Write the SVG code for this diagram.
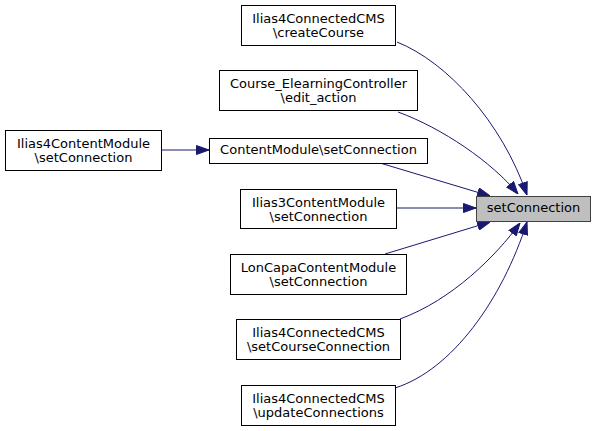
<svg xmlns="http://www.w3.org/2000/svg" width="596" height="431" viewBox="0 0 596 431">
<style>
.n rect{fill:#fff;stroke:#000;stroke-width:1}
.n.h rect{fill:#bfbfbf;stroke:#404040}
.n text{font-family:"DejaVu Sans",sans-serif;font-size:13px;fill:#000;text-anchor:middle}
.e path{fill:none;stroke:#191970;stroke-width:1;marker-end:url(#ah)}
</style>
<defs>
<marker id="ah" viewBox="0 0 13 10" refX="13" refY="5" markerWidth="13" markerHeight="10" markerUnits="userSpaceOnUse" orient="auto">
<path d="M0.5,0.5 L13,5 L0.5,9.5 z" fill="#191970" stroke="#191970" stroke-width="1"/>
</marker>
</defs>
<rect width="596" height="431" fill="#fff"/>
<g class="e">
<path d="M161,150 L209,150"/>
<path d="M397,42 C447,62 502,122 527,195"/>
<path d="M398,112 C442,128 492,162 518,194"/>
<path d="M380,163 L490,196"/>
<path d="M397,208 L476,208"/>
<path d="M385,254 L490,222"/>
<path d="M400,319 C452,300 496,256 520,223"/>
<path d="M395,388 C452,370 502,300 527,222"/>
</g>
<g id="n0" class="n h"><rect x="476.500" y="196.500" width="114" height="25"/><text x="533.500" y="212">setConnection</text></g>
<g id="n1" class="n"><rect x="241.500" y="5.500" width="154" height="40"/><text x="318.500" y="23">Ilias4ConnectedCMS</text><text x="318.500" y="37">\createCourse</text></g>
<g id="n2" class="n"><rect x="219.500" y="70.500" width="198" height="40"/><text x="318.500" y="88">Course_ElearningController</text><text x="318.500" y="102">\edit_action</text></g>
<g id="n3" class="n"><rect x="209.500" y="138.500" width="218" height="25"/><text x="318.500" y="154">ContentModule\setConnection</text></g>
<g id="n4" class="n"><rect x="5.500" y="130.500" width="156" height="40"/><text x="83.500" y="148">Ilias4ContentModule</text><text x="83.500" y="162">\setConnection</text></g>
<g id="n5" class="n"><rect x="240.500" y="189.500" width="156" height="39"/><text x="318.500" y="207">Ilias3ContentModule</text><text x="318.500" y="221">\setConnection</text></g>
<g id="n6" class="n"><rect x="230.500" y="254.500" width="176" height="40"/><text x="318.500" y="272">LonCapaContentModule</text><text x="318.500" y="286">\setConnection</text></g>
<g id="n7" class="n"><rect x="236.500" y="319.500" width="164" height="40"/><text x="318.500" y="337">Ilias4ConnectedCMS</text><text x="318.500" y="351">\setCourseConnection</text></g>
<g id="n8" class="n"><rect x="241.500" y="385.500" width="154" height="40"/><text x="318.500" y="403">Ilias4ConnectedCMS</text><text x="318.500" y="417">\updateConnections</text></g>
</svg>
